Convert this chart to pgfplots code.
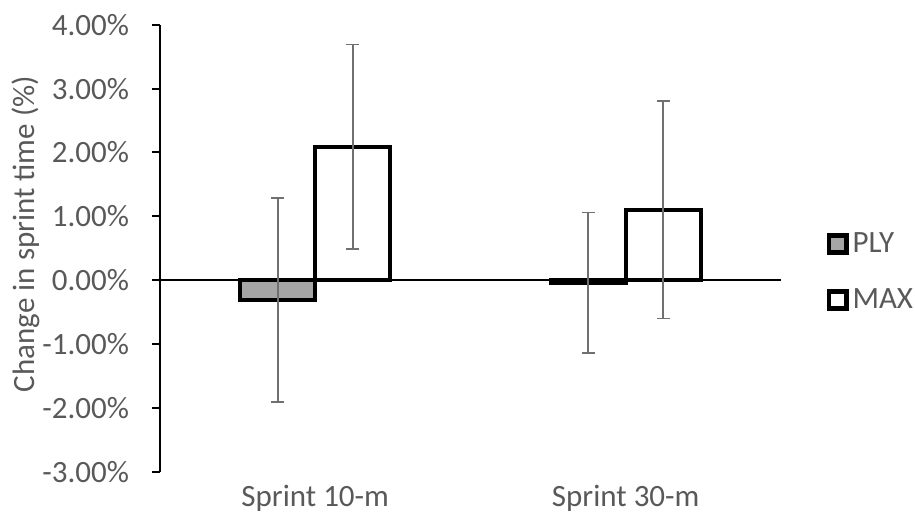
\documentclass[border=0pt]{standalone}
\usepackage{fontspec}
\setmainfont{Carlito}
\usepackage{pgfplots}
\pgfplotsset{compat=1.18}
\definecolor{txt}{HTML}{595959}
\definecolor{plyfill}{HTML}{A6A6A6}
\definecolor{errc}{HTML}{707070}
\begin{document}
\begin{tikzpicture}
\path[use as bounding box] (0,0) rectangle (457.5pt,258pt);
\begin{axis}[
  at={(80pt,22.15pt)}, anchor=south west,
  scale only axis, width=310.5pt, height=223.5pt,
  ybar=0pt, bar width=37.5pt,
  legend image code/.code={\draw[#1, line width=2.4pt] (-0.6pt,-4.3pt) rectangle (8.0pt,4.3pt);},
  xmin=-0.5, xmax=1.5,
  ymin=-3, ymax=4,
  ytick={-3,-2,...,4},
  xtick={0,1}, xticklabels={Sprint 10-m, Sprint 30-m},
  axis y line*=left, axis x line*=bottom,
  x axis line style={draw=none},
  y axis line style={line width=1pt, black},
  xtick style={draw=none},
  ytick style={line width=1pt, black},
  tick align=outside, major tick length=4pt,
  extra y ticks={0}, extra y tick labels={},
  extra y tick style={grid=major, major grid style={black, line width=0.7pt}},
  /pgf/number format/assume math mode=true,
  yticklabel={\pgfmathprintnumber[fixed,fixed zerofill,precision=2]{\tick}\%},
  tick label style={font=\fontsize{15.5}{18}\selectfont, text=txt},
  yticklabel style={xshift=-8pt},
  xticklabel style={yshift=1pt},
  ylabel={Change in sprint time (\%)},
  ylabel style={at={(axis description cs:-0.2166,0.532)}, anchor=center, font=\fontsize{15.5}{18}\selectfont, text=txt},
  legend style={draw=none, fill=none, at={(axis description cs:1.063,0.447)}, anchor=west,
    font=\fontsize{15.5}{18}\selectfont, text=txt, row sep=12.5pt},
  legend cell align=left,
  clip=false,
]
\addplot[draw=black, line width=2pt, fill=plyfill,
  error bars/.cd, y dir=both, y explicit,
  error bar style={errc, line width=0.9pt},
  error mark options={errc, line width=0.9pt, mark size=3.25pt, rotate=90}]
  coordinates {(0,-0.31) +- (0,1.60) (1,-0.04) +- (0,1.10)};
\addplot[draw=black, line width=2pt, fill=white,
  error bars/.cd, y dir=both, y explicit,
  error bar style={errc, line width=0.9pt},
  error mark options={errc, line width=0.9pt, mark size=3.25pt, rotate=90}]
  coordinates {(0,2.09) +- (0,1.60) (1,1.10) +- (0,1.70)};
\legend{PLY, MAX}
\end{axis}
\end{tikzpicture}
\end{document}
